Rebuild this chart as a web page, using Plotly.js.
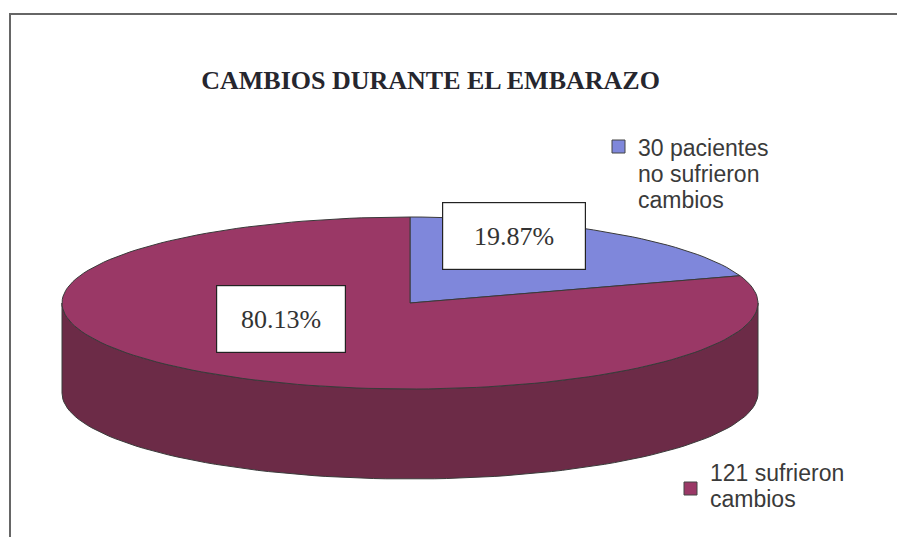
<!DOCTYPE html>
<html><head><meta charset="utf-8">
<script src="https://cdn.plot.ly/plotly-3.0.1.min.js"></script>
<style>html,body{margin:0;padding:0;background:#fff}#chart{width:897px;height:537px}</style>
</head><body><div id="chart"></div>
<script>
// ---- data ----
var categories = ["30 pacientes no sufrieron cambios", "121 sufrieron cambios"];
var counts = [30, 121];
var legendLines = [["30 pacientes", "no sufrieron", "cambios"], ["121 sufrieron", "cambios"]];
var chartTitle = "CAMBIOS DURANTE EL EMBARAZO";

// ---- style / geometry ----
var topColors = ["#7f87db", "#9a3866"];
var wallColor = "#6c2b47";
var edge = "#3a3a3a";
var geo = {cx: 410, cy: 303, rx: 348, ry: 86, depth: 90};

var total = counts.reduce(function(a,b){return a+b;},0);
var pct = counts.map(function(v){return v/total*100;});

function pt(deg, dy){
  var r = deg*Math.PI/180;
  return [geo.cx + geo.rx*Math.sin(r), geo.cy - geo.ry*Math.cos(r) + (dy||0)];
}
function arc(a0, a1, dy){
  var n = Math.max(8, Math.ceil(Math.abs(a1-a0)/2)), xs=[], ys=[];
  for (var i=0;i<=n;i++){ var p = pt(a0+(a1-a0)*i/n, dy); xs.push(p[0]); ys.push(p[1]); }
  return [xs, ys];
}

var traces = [];
// side wall (front half, visible from 90° to 270° clockwise from 12 o'clock)
var wTop = arc(90, 270, 0), wBot = arc(270, 90, geo.depth);
traces.push({type:"scatter", mode:"lines", x: wTop[0].concat(wBot[0]).concat([wTop[0][0]]),
  y: wTop[1].concat(wBot[1]).concat([wTop[1][0]]), fill:"toself", fillcolor: wallColor,
  line:{color:edge, width:1}, hoverinfo:"skip", showlegend:false});

// top slices
var start = 0;
counts.forEach(function(v, i){
  var span = v/total*360;
  var a = arc(start, start+span, 0);
  traces.push({type:"scatter", mode:"lines", x:[geo.cx].concat(a[0]).concat([geo.cx]),
    y:[geo.cy].concat(a[1]).concat([geo.cy]), fill:"toself", fillcolor: topColors[i],
    line:{color:edge, width:1}, name: categories[i], hoverinfo:"name", showlegend:false});
  start += span;
});

// percentage label boxes
var labelPos = [[514, 236], [281, 319]];
var labelSize = [[140, 64], [126, 64]];
var annotations = [];
pct.forEach(function(p, i){
  annotations.push({x: labelPos[i][0], y: labelPos[i][1], xref:"x", yref:"y", showarrow:false,
    text: p.toFixed(2) + "%", font:{family:"Liberation Serif, Times New Roman, serif", size:26, color:"#333"},
    bgcolor:"#ffffff", bordercolor:"#222", borderwidth:1.2, width: labelSize[i][0], height: labelSize[i][1]});
});

// legend (drawn manually)
var legendAnchor = [[636, 148], [708, 473]];
var legendBoxes = [];
legendLines.forEach(function(lines, i){
  lines.forEach(function(t, j){
    annotations.push({x: legendAnchor[i][0], y: legendAnchor[i][1] + j*26, xref:"x", yref:"y",
      xanchor:"left", yanchor:"middle", showarrow:false, text:t,
      font:{family:"Liberation Sans, Arial, sans-serif", size:23, color:"#3a3a3a"}});
  });
});
var swatch = [[612, 140, 625, 153], [684, 482, 697, 495]];
swatch.forEach(function(s, i){
  legendBoxes.push({type:"rect", xref:"x", yref:"y", x0:s[0], y0:s[1], x1:s[2], y1:s[3],
    fillcolor: topColors[i], line:{color:"#444", width:1}});
});

var layout = {
  width: 897, height: 537,
  margin:{l:0, r:0, t:0, b:0},
  paper_bgcolor:"#ffffff", plot_bgcolor:"#ffffff",
  title:{text: chartTitle, x: 0.48, y: 0.852, xanchor:"center", yanchor:"middle",
    font:{family:"Liberation Serif, Times New Roman, serif", size:26, color:"#26262e", weight:"bold"}},
  xaxis:{range:[0,897], visible:false, fixedrange:true},
  yaxis:{range:[537,0], visible:false, fixedrange:true},
  showlegend:false,
  annotations: annotations,
  shapes: [{type:"rect", xref:"paper", yref:"paper", x0:10/897, x1:1.02, y0:-0.02, y1:1-14/537,
    line:{color:"#666", width:2}, fillcolor:"rgba(0,0,0,0)", layer:"below"}].concat(legendBoxes)
};

Plotly.newPlot("chart", traces, layout, {staticPlot:true});
</script>
</body></html>
